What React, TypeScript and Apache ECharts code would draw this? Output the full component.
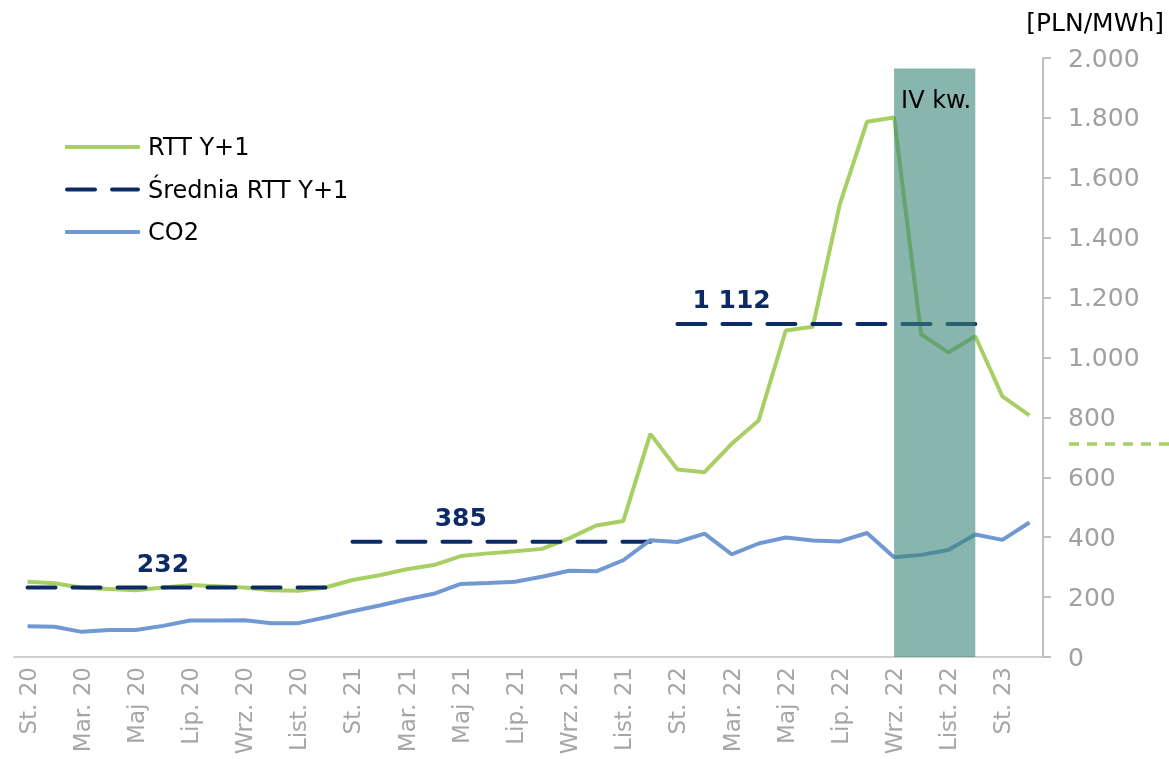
import React, { useEffect, useRef } from "react";
import * as echarts from "echarts";

const monthNames = ["St.", "Lut.", "Mar.", "Kwi.", "Maj", "Cze.", "Lip.", "Sie.", "Wrz.", "Paź.", "List.", "Gru."];
const years = ["20", "21", "22", "23"];
const categories: string[] = [];
years.forEach((y) => monthNames.forEach((m) => categories.push(`${m} ${y}`)));
const months = categories.slice(0, 38);

const rttY1 = [251, 246, 231, 227, 223, 232, 240, 236, 232, 223, 221, 232, 257, 273, 293, 307, 337, 346, 353, 361, 396, 439, 454, 745, 626, 617, 712, 790, 1090, 1103, 1513, 1787, 1801, 1077, 1017, 1071, 870, 807];
const co2 = [103, 101, 84, 90, 90, 104, 122, 122, 123, 113, 113, 132, 153, 172, 193, 211, 244, 247, 251, 268, 288, 286, 323, 390, 384, 412, 343, 379, 399, 389, 386, 414, 333, 341, 357, 409, 391, 449];

const avgValues = [232, 385, 1112];
const avgStart = ["St. 20", "St. 21", "St. 22"];
const avgEnd = ["Gru. 20", "Gru. 21", "Gru. 22"];
const avgLabelAt = ["Cze. 20", "Maj 21", "Mar. 22"];

const bandStart = "Wrz. 22";
const bandEnd = "Gru. 22";
const bandTop = 1965;
const bandLabel = "IV kw.";

const yTicks = { min: 0, max: 2000, interval: 200 };

const FONT = "DejaVu Sans";
const GREEN = "#a8cf63";
const BLUE = "#7099d3";
const NAVY = "#0c2a66";

export default function App() {
  const ref = useRef<HTMLDivElement>(null);
  useEffect(() => {
    if (!ref.current) return;
    const chart = echarts.init(ref.current, undefined, { renderer: "svg" });

    const avgSeries = avgValues.map((v, k) => {
      const s = months.indexOf(avgStart[k]);
      const e = months.indexOf(avgEnd[k]);
      const l = months.indexOf(avgLabelAt[k]);
      const data = months.map((_, i) => {
        if (i < s || i > e) return null;
        if (i === l) return { value: v, label: { show: true } };
        return v;
      });
      return {
        name: "Średnia RTT Y+1",
        type: "line",
        data,
        symbol: "circle",
        symbolSize: 0,
        showSymbol: true,
        z: 3,
        lineStyle: { color: NAVY, width: 4, type: [28, 17], cap: "round" },
        itemStyle: { color: NAVY },
        label: {
          show: false,
          position: "top",
          distance: 12,
          color: NAVY,
          fontWeight: "bold",
          fontSize: 25,
          fontFamily: FONT,
          formatter: (p: any) => String(p.value).replace(/\B(?=(\d{3})+(?!\d))/g, " "),
        },
      };
    });

    const legendText = { color: "#000", fontSize: 24, fontFamily: FONT, lineHeight: 30 };

    const option: any = {
      animation: false,
      textStyle: { fontFamily: FONT },
      grid: { left: 14, right: 126, top: 58, bottom: 102, containLabel: false },
      legend: {
        data: [
          { name: "RTT Y+1", icon: "roundRect", itemStyle: { color: GREEN } },
          { name: "Średnia RTT Y+1", icon: "path://M2,0h28a2,2 0 0 1 0,4h-28a2,2 0 0 1 0,-4z M47,0h26a2,2 0 0 1 0,4h-26a2,2 0 0 1 0,-4z", itemStyle: { color: NAVY } },
          { name: "CO2", icon: "roundRect", itemStyle: { color: BLUE } },
        ],
        orient: "vertical",
        left: 60,
        top: 127,
        itemWidth: 75,
        itemHeight: 4,
        itemGap: 12.5,
        symbolKeepAspect: false,
        textStyle: { ...legendText, padding: [0, 0, 0, 3] },
      },
      xAxis: {
        type: "category",
        data: months,
        boundaryGap: true,
        axisLine: { lineStyle: { color: "#d0d0d0", width: 2 } },
        axisTick: { show: false },
        axisLabel: { interval: 1, rotate: 90, color: "#a6a6a6", fontSize: 23, margin: 10, fontFamily: FONT },
        splitLine: { show: false },
      },
      yAxis: {
        type: "value",
        position: "right",
        min: yTicks.min,
        max: yTicks.max,
        interval: yTicks.interval,
        axisLine: { show: true, lineStyle: { color: "#c0c0c0", width: 2 } },
        axisTick: { show: true, length: 8, lineStyle: { color: "#c0c0c0", width: 2 } },
        axisLabel: {
          color: "#a0a0a0",
          fontSize: 25,
          margin: 25,
          fontFamily: FONT,
          formatter: (v: number) => String(v).replace(/\B(?=(\d{3})+(?!\d))/g, "."),
        },
        splitLine: { show: false },
      },
      graphic: [
        { type: "text", right: 5, top: 10, style: { text: "[PLN/MWh]", font: `25px "${FONT}"`, fill: "#000" } },
        {
          type: "line",
          shape: { x1: 1069, y1: 444, x2: 1169, y2: 444 },
          style: { stroke: GREEN, lineWidth: 3.5, lineDash: [10, 8] },
        },
      ],
      series: [
        {
          name: "RTT Y+1",
          type: "line",
          data: rttY1,
          symbol: "none",
          z: 2,
          lineStyle: { color: GREEN, width: 4 },
          itemStyle: { color: GREEN },
        },
        ...avgSeries,
        {
          name: "CO2",
          type: "line",
          data: co2,
          symbol: "none",
          z: 4,
          lineStyle: { color: BLUE, width: 4 },
          itemStyle: { color: BLUE },
        },
        {
          name: "band",
          type: "custom",
          z: 10,
          clip: false,
          encode: { x: [0, 1], y: 2 },
          data: [[months.indexOf(bandStart), months.indexOf(bandEnd), bandTop]],
          renderItem: (params: any, api: any) => {
            const p0 = api.coord([api.value(0), 0]);
            const p1 = api.coord([api.value(1), api.value(2)]);
            return {
              type: "group",
              children: [
                {
                  type: "rect",
                  shape: { x: p0[0], y: p1[1], width: p1[0] - p0[0], height: p0[1] - p1[1] },
                  style: { fill: "rgba(57,133,120,0.6)" },
                },
                {
                  type: "text",
                  x: p0[0] + 7,
                  y: p1[1] + 20,
                  style: { text: bandLabel, font: `24px "${FONT}"`, fill: "#000", verticalAlign: "top" },
                },
              ],
            };
          },
        },
      ],
    };
    chart.setOption(option);
    return () => chart.dispose();
  }, []);
  return <div ref={ref} style={{ width: 1169, height: 759, position: "fixed", left: 0, top: 0 }} />;
}
